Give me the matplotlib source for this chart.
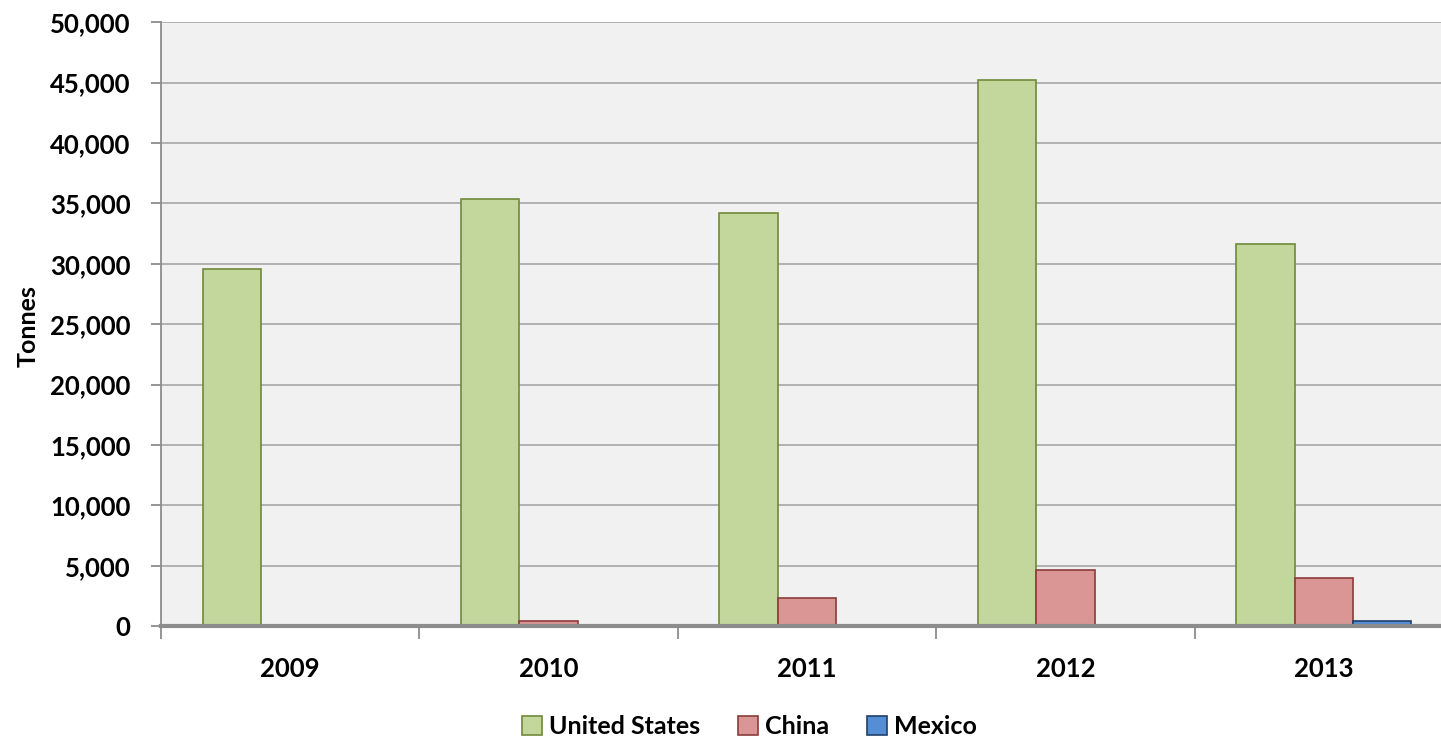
import numpy as np
import matplotlib
matplotlib.use('Agg')
import matplotlib.pyplot as plt
from matplotlib.ticker import FuncFormatter

years = ['2009', '2010', '2011', '2012', '2013']
united_states = [29600, 35400, 34200, 45200, 31600]
china = [0, 400, 2300, 4600, 3950]
mexico = [0, 100, 100, 100, 400]

series = [
    ('United States', united_states, '#c3d69b', '#6f8a3a'),
    ('China', china, '#d99694', '#8c3b3a'),
    ('Mexico', mexico, '#558ed5', '#1f3f6b'),
]

plt.rcParams['font.family'] = ['Lato', 'DejaVu Sans']

fig = plt.figure(figsize=(14.41, 7.40), dpi=100)
ax = fig.add_axes([0.1117, 0.154, 0.8966, 0.816])
ax.set_facecolor('#f1f1f1')

x = np.arange(len(years))
w = 0.226
for i, (name, vals, fc, ec) in enumerate(series):
    ax.bar(x + (i - 1) * w, vals, w, color=fc, edgecolor=ec, linewidth=1.2,
           label=name, zorder=3)

ax.set_xlim(-0.5, len(years) - 0.5)
ax.set_ylim(0, 50000)
ax.set_yticks(np.arange(0, 50001, 5000))
ax.yaxis.set_major_formatter(FuncFormatter(lambda v, p: f'{int(v):,}'))
ax.grid(axis='y', color='#a6a6a6', linewidth=1.2, zorder=0)

ax.set_xticks(x)
ax.set_xticklabels(years)
ax.set_xticks(np.arange(-0.5, len(years), 1), minor=True)
ax.tick_params(axis='x', which='major', length=0, pad=22, labelsize=18.5)
ax.tick_params(axis='x', which='minor', length=9, width=1.3, color='#8c8c8c')
ax.tick_params(axis='y', length=7, width=1.3, color='#8c8c8c', labelsize=18.5, pad=15)
for lbl in ax.get_xticklabels() + ax.get_yticklabels():
    lbl.set_fontweight('bold')

for s in ['top', 'right']:
    ax.spines[s].set_visible(False)
ax.spines['left'].set_color('#8c8c8c')
ax.spines['left'].set_linewidth(1.3)
ax.spines['bottom'].set_color('#8c8c8c')
ax.spines['bottom'].set_linewidth(3)
ax.spines['bottom'].set_zorder(4)

fig.text(28 / 1441, 0.56, 'Tonnes', rotation=90, ha='center', va='center',
         fontsize=18, fontweight='bold')

fig.legend(*ax.get_legend_handles_labels(), loc='center',
           bbox_to_anchor=(0.52, 0.018), ncol=3, frameon=False,
           handlelength=0.8, handleheight=0.8, columnspacing=1.5,
           handletextpad=0.3, prop={'weight': 'bold', 'size': 18})

fig.savefig('out.png', dpi=100)
